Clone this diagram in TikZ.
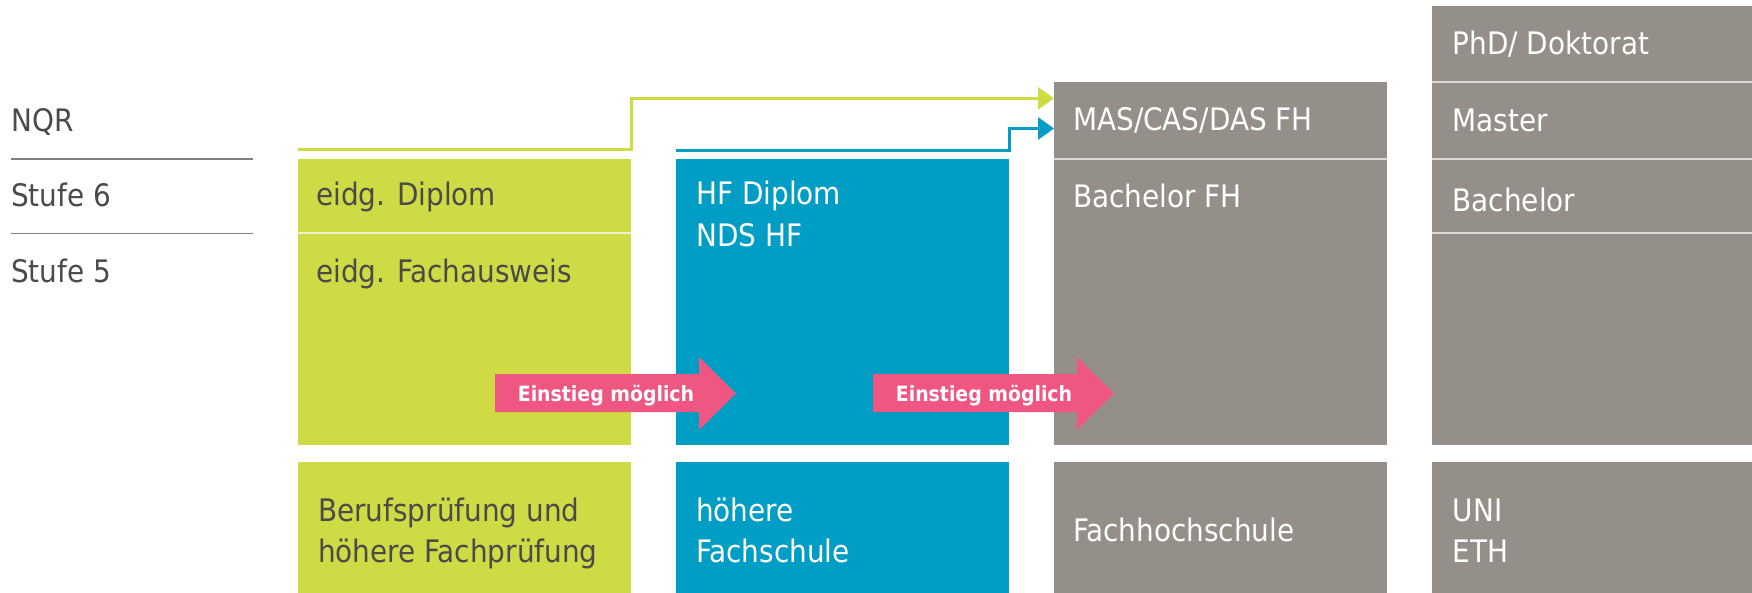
\documentclass[tikz,border=0pt]{standalone}
\usepackage{fontspec}
\setmainfont{DejaVu Sans Condensed}[BoldFont={DejaVu Sans Condensed Bold}]
\usetikzlibrary{arrows.meta}
\definecolor{cgreen}{HTML}{CEDB45}
\definecolor{cblue}{HTML}{009DC5}
\definecolor{cgray}{HTML}{958F89}
\definecolor{cpink}{HTML}{EF5681}
\definecolor{ctext}{HTML}{4A4A48}
\definecolor{crule}{HTML}{7F7F7F}
\definecolor{cdiv}{HTML}{DCD9D4}
\definecolor{cgdiv}{HTML}{EEF2C8}
\begin{document}
\begin{tikzpicture}[x=1pt,y=-1pt,
  colbox/.style={fill=#1, draw=none, inner sep=0pt, outer sep=0pt},
  lab/.style={anchor=base west, inner sep=0pt, font=\fontsize{31}{37}\selectfont, text=ctext},
  wlab/.style={lab, text=white},
  rowline/.style={draw=crule, line width=1.5pt},
  divline/.style={draw=#1, line width=2pt},
  conn/.style={draw=#1, line width=3pt, -{Triangle[length=16pt,width=22pt]}},
  einst/.style={fill=cpink, draw=none},
  etext/.style={anchor=base, inner sep=0pt, font=\bfseries\fontsize{21}{25}\selectfont, text=white}]
\useasboundingbox (0,0) rectangle (1752,593);

% row labels
\node[lab] (nqr) at (11,132) {NQR};
\node[lab] (s6) at (11,207) {Stufe 6};
\node[lab] (s5) at (11,283) {Stufe 5};
\coordinate (r1a) at (11,159); \coordinate (r1b) at (253,159);
\coordinate (r2a) at (11,233.5); \coordinate (r2b) at (253,233.5);
\draw[rowline] (r1a) -- (r1b);
\draw[rowline] (r2a) -- (r2b);

% columns (upper)
\node[colbox=cgreen, minimum width=333pt, minimum height=286pt] (gA) at (464.5,302) {};
\node[colbox=cblue, minimum width=333pt, minimum height=286pt] (bA) at (842.5,302) {};
\node[colbox=cgray, minimum width=333pt, minimum height=363.4pt] (fA) at (1220.5,263.3) {};
\node[colbox=cgray, minimum width=320pt, minimum height=439.4pt] (uA) at (1592,225.3) {};
% columns (lower)
\node[colbox=cgreen, minimum width=333pt, minimum height=131.5pt] (gB) at (464.5,527.25) {};
\node[colbox=cblue, minimum width=333pt, minimum height=131.5pt] (bB) at (842.5,527.25) {};
\node[colbox=cgray, minimum width=333pt, minimum height=131.5pt] (fB) at (1220.5,527.25) {};
\node[colbox=cgray, minimum width=320pt, minimum height=131.5pt] (uB) at (1592,527.25) {};

% dividers
\draw[divline=cgdiv] (298,233.5) -- (631,233.5);
\draw[divline=cdiv] (1054,159) -- (1387,159);
\draw[divline=cdiv] (1432,81.6) -- (1752,81.6);
\draw[divline=cdiv] (1432,159) -- (1752,159);
\draw[divline=cdiv] (1432,233.5) -- (1752,233.5);

% texts
\node[lab] (t1) at (316,206) {eidg. Diplom};
\node[lab] (t2) at (316,283) {eidg. Fachausweis};
\node[wlab] (t3) at (696,204.5) {HF Diplom};
\node[wlab] (t4) at (696,247) {NDS HF};
\node[wlab] (t5) at (1073,131) {MAS/CAS/DAS FH};
\node[wlab] (t6) at (1073,208) {Bachelor FH};
\node[wlab] (t7) at (1452.5,55) {PhD/ Doktorat};
\node[wlab] (t8) at (1452.5,132) {Master};
\node[wlab] (t9) at (1452.5,212) {Bachelor};

\node[lab] (l1) at (318,521) {Berufsprüfung und};
\node[lab] (l2) at (318,562) {höhere Fachprüfung};
\node[wlab] (l3) at (696,521) {höhere};
\node[wlab] (l4) at (696,562) {Fachschule};
\node[wlab] (l5) at (1073,541) {Fachhochschule};
\node[wlab] (l6) at (1452.5,521) {UNI};
\node[wlab] (l7) at (1452.5,562) {ETH};

% connectors
\coordinate (g0) at (298,149.5);
\coordinate (gc) at (631,149.5);
\coordinate (gy) at (0,98.3);
\draw[conn=cgreen] (g0) -- (gc) |- (fA.west |- gy);
\coordinate (b0) at (676,151);
\coordinate (bc) at (1009,151);
\coordinate (by) at (0,128.5);
\draw[conn=cblue] (b0) -- (bc) |- (fA.west |- by);

% Einstieg arrows
\fill[einst] (495,374) -- (699,374) -- (699,357) -- (736,393.5) -- (699,430) -- (699,412) -- (495,412) -- cycle;
\node[etext] (e1) at (606,401) {Einstieg möglich};
\fill[einst] (873,374) -- (1077,374) -- (1077,357) -- (1114,393.5) -- (1077,430) -- (1077,412) -- (873,412) -- cycle;
\node[etext] (e2) at (984,401) {Einstieg möglich};
\end{tikzpicture}
\end{document}
